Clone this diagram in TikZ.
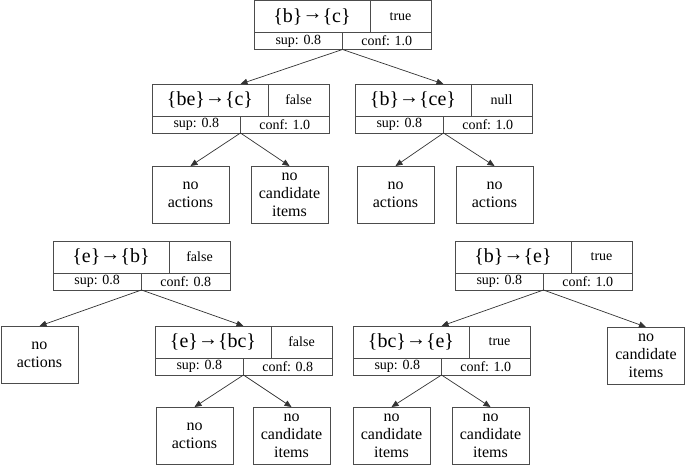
\documentclass[tikz,border=0pt]{standalone}
\usepackage{fontspec}
\setmainfont{Liberation Serif}
\usetikzlibrary{arrows.meta}

\tikzset{
  cell/.style={draw=black!70, line width=0.8pt, inner sep=0pt, outer sep=0pt, anchor=north west},
  rulecell/.style={cell, minimum width=116pt, minimum height=32pt, font=\fontsize{20}{22}\selectfont},
  flagcell/.style={cell, minimum width=61pt, minimum height=32pt, font=\fontsize{14}{16}\selectfont},
  statcell/.style={cell, minimum width=88.5pt, minimum height=17pt, font=\fontsize{14}{16}\selectfont},
  leaf/.style={cell, minimum width=77pt, minimum height=57pt, align=center, font=\fontsize{16}{18}\selectfont},
  link/.style={draw=black!80, line width=0.7pt, -{Triangle[length=7pt,width=6pt]}}
}

% arrow inside a rule
\newcommand{\imp}{\raisebox{0.12em}{→}}

% one rule box: name, x, y, rule, flag, sup, conf
\newcommand{\rulebox}[7]{%
  \node[rulecell] (#1-r) at (#2,#3) {#4};
  \node[flagcell] (#1-f) at (#1-r.north east) {#5};
  \node[statcell] (#1-s) at (#1-r.south west) {sup: #6};
  \node[statcell] (#1-c) at (#1-s.north east) {conf: #7};
  \coordinate (#1-out) at (#1-s.south east);
  \coordinate (#1-in) at ([xshift=88.5pt]#1-r.north west);
}

\begin{document}
\begin{tikzpicture}[x=1pt,y=-1pt]
  \useasboundingbox (0,0) rectangle (685,465);

  % first tree
  \rulebox{bc}{254}{0.5}{\{b\}\imp\{c\}}{true}{0.8}{1.0}
  \rulebox{bec}{152}{84}{\{be\}\imp\{c\}}{false}{0.8}{1.0}
  \rulebox{bce}{355}{84}{\{b\}\imp\{ce\}}{null}{0.8}{1.0}
  \node[leaf] (bec-a) at (152,166) {no\\actions};
  \node[leaf] (bec-i) at (251,166) {no\\candidate\\items};
  \node[leaf] (bce-a) at (357,166) {no\\actions};
  \node[leaf] (bce-b) at (456,166) {no\\actions};
  \draw[link] (bc-out) -- (bec-in);
  \draw[link] (bc-out) -- (bce-in);
  \draw[link] (bec-out) -- (bec-a.north);
  \draw[link] (bec-out) -- (bec-i.north);
  \draw[link] (bce-out) -- (bce-a.north);
  \draw[link] (bce-out) -- (bce-b.north);

  % second tree
  \rulebox{eb}{53}{241}{\{e\}\imp\{b\}}{false}{0.8}{0.8}
  \rulebox{ebc}{155}{326}{\{e\}\imp\{bc\}}{false}{0.8}{0.8}
  \node[leaf] (eb-a) at (1,326) {no\\actions};
  \node[leaf] (ebc-a) at (156,407) {no\\actions};
  \node[leaf] (ebc-i) at (253,407) {no\\candidate\\items};
  \draw[link] (eb-out) -- (eb-a.north);
  \draw[link] (eb-out) -- (ebc-in);
  \draw[link] (ebc-out) -- (ebc-a.north);
  \draw[link] (ebc-out) -- (ebc-i.north);

  % third tree
  \rulebox{be}{455}{241}{\{b\}\imp\{e\}}{true}{0.8}{1.0}
  \rulebox{bce2}{353}{326}{\{bc\}\imp\{e\}}{true}{0.8}{1.0}
  \node[leaf] (be-i) at (607.5,327) {no\\candidate\\items};
  \node[leaf] (bce2-i) at (353,407) {no\\candidate\\items};
  \node[leaf] (bce2-j) at (452,407) {no\\candidate\\items};
  \draw[link] (be-out) -- (bce2-in);
  \draw[link] (be-out) -- (be-i.north);
  \draw[link] (bce2-out) -- (bce2-i.north);
  \draw[link] (bce2-out) -- (bce2-j.north);
\end{tikzpicture}
\end{document}
